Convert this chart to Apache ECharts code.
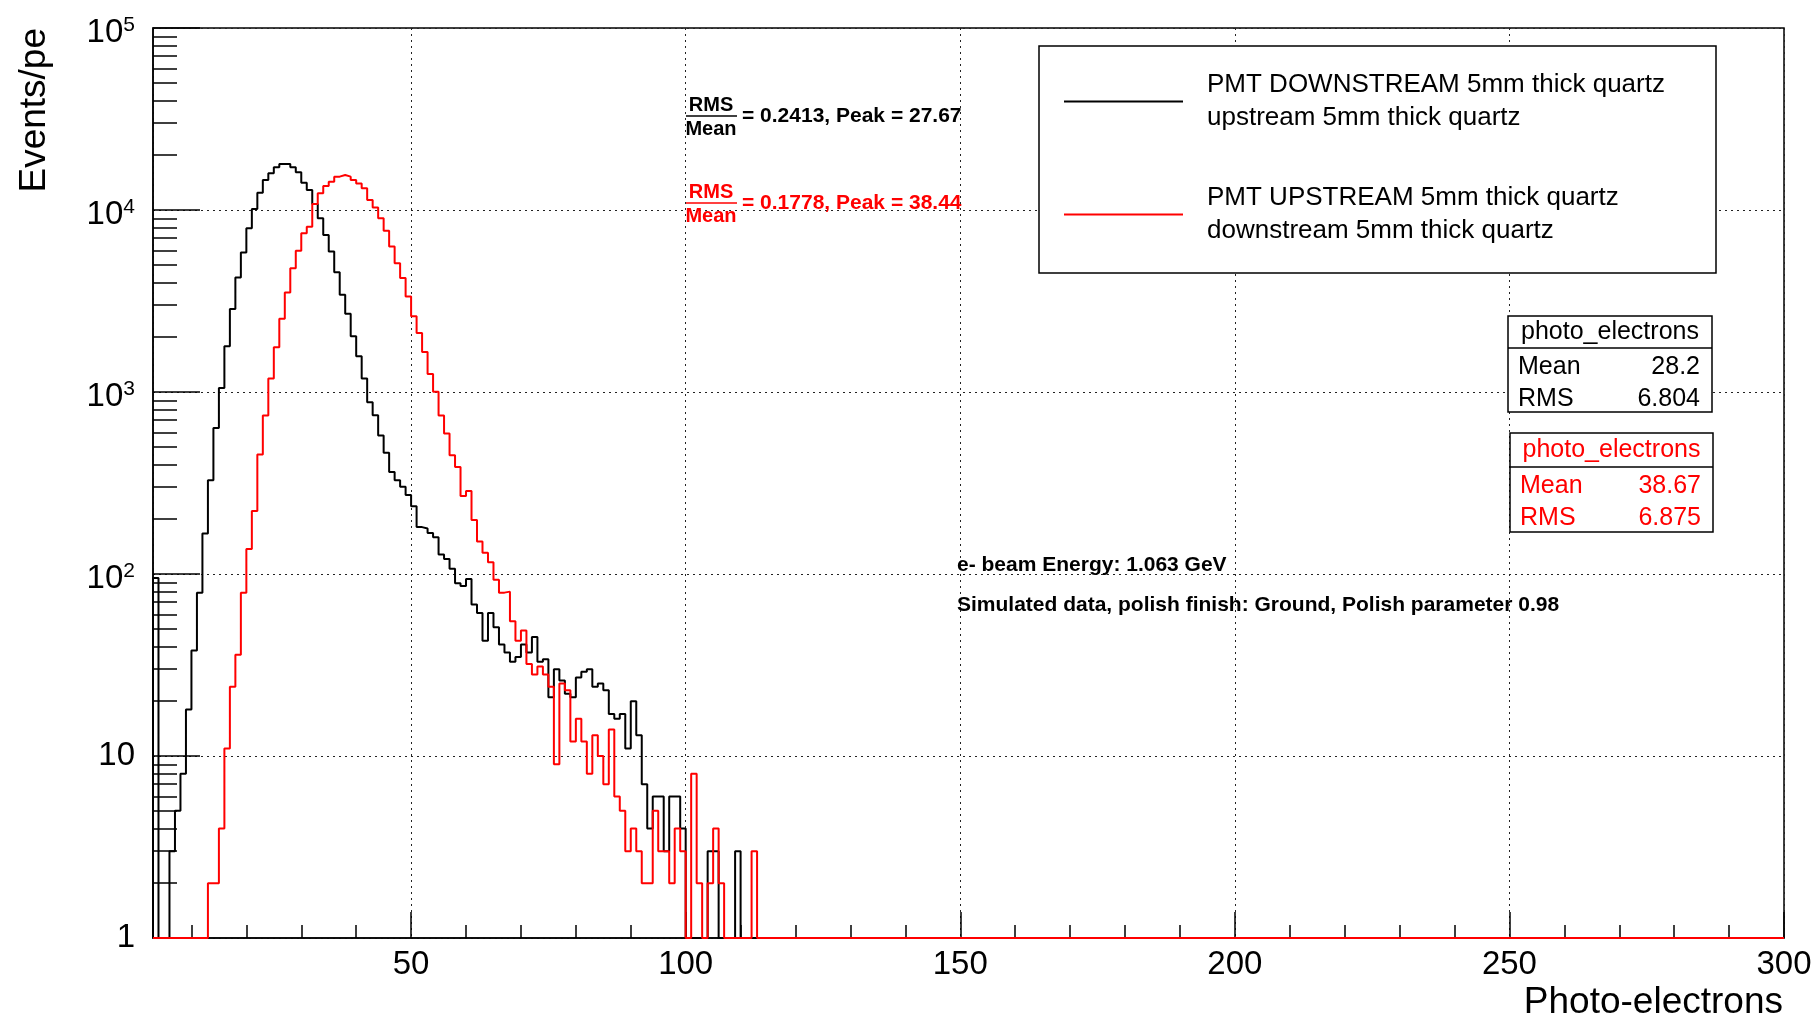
<!DOCTYPE html>
<html>
<head>
<meta charset="utf-8">
<title>Photo-electrons</title>
<script src="https://cdn.jsdelivr.net/npm/echarts@6.0.0/dist/echarts.min.js"></script>
<style>
  html, body { margin: 0; padding: 0; background: #fff; }
  #chart { width: 1818px; height: 1019px; }
</style>
</head>
<body>
<div id="chart"></div>
<script>
// bins are 1 p.e. wide; each counts array starts at the given low edge
const blackStart = 3;
const blackCounts = [
  95, 0, 0, 3, 5, 8, 18, 38, 79, 167,
  327, 635, 1053, 1783, 2855, 4260, 5840, 7940, 10140, 12450,
  14620, 15900, 17150, 17900, 17900, 17150, 16100, 14130, 12890, 10800,
  9010, 7300, 5915, 4555, 3423, 2693, 2023, 1572, 1186, 879,
  746, 577, 464, 363, 327, 302, 272, 236, 181, 178,
  168, 159, 128, 121, 107, 89, 86, 94, 68, 61,
  43, 61, 51, 41, 37, 33, 35, 41, 37, 45,
  33, 34, 21, 30, 26, 22, 21, 27, 29, 30,
  24, 25, 23, 17, 16, 17, 11, 20, 13, 7,
  4, 6, 6, 3, 6, 6, 4, 0, 0, 0,
  0, 3, 3, 0, 0, 0, 3
];
const redStart = 13;
const redCounts = [
  2, 2, 4, 11, 24, 36, 79, 137, 222, 454,
  743, 1186, 1761, 2530, 3525, 4790, 5970, 7450, 8100, 10800,
  12350, 13550, 14310, 15250, 15570, 15250, 14620, 14000, 13150, 11350,
  10310, 9010, 7680, 6300, 5100, 4225, 3350, 2605, 2110, 1660,
  1257, 1002, 743, 592, 449, 387, 268, 286, 198, 151,
  131, 116, 93, 79, 80, 55, 43, 49, 32, 28,
  31, 28, 24, 9, 25, 23, 12, 16, 12, 8,
  13, 10, 7, 14, 6, 5, 3, 4, 3, 2,
  2, 5, 3, 3, 2, 4, 3, 0, 8, 2,
  0, 2, 4, 2, 0, 0, 0, 0, 0, 3
];

const xMin = 3, xMax = 300;
const yMin = 1, yMax = 100000;
const xMajorTicks = [50, 100, 150, 200, 250, 300];
const xMinorTicks = [10, 20, 30, 40, 60, 70, 80, 90, 110, 120, 130, 140, 160, 170, 180, 190,
  210, 220, 230, 240, 260, 270, 280, 290];
const yMinorTicks = [2, 3, 4, 5, 6, 7, 8, 9, 20, 30, 40, 50, 60, 70, 80, 90,
  200, 300, 400, 500, 600, 700, 800, 900, 2000, 3000, 4000, 5000, 6000, 7000, 8000, 9000,
  20000, 30000, 40000, 50000, 60000, 70000, 80000, 90000];

const seriesNames = ['PMT DOWNSTREAM 5mm thick quartz', 'PMT UPSTREAM 5mm thick quartz'];
const seriesSubtitles = ['upstream 5mm thick quartz', 'downstream 5mm thick quartz'];
const statMeans = ['28.2', '38.67'];
const statRms = ['6.804', '6.875'];
const ratioTexts = ['= 0.2413, Peak = 27.67', '= 0.1778, Peak = 38.44'];
const notes = ['e- beam Energy: 1.063 GeV', 'Simulated data, polish finish: Ground, Polish parameter 0.98'];

const FONT = '"Liberation Sans", Arial, Helvetica, sans-serif';
const BLACK = '#000000';
const RED = '#ff0000';

function histPoints(start, counts) {
  // step outline, empty bins sit on the axis floor like ROOT draws them
  const pts = [[xMin, yMin]];
  for (let x = xMin; x < xMax; x++) {
    const i = x - start;
    const c = (i >= 0 && i < counts.length) ? counts[i] : 0;
    pts.push([x, c > 0 ? c : yMin]);
  }
  pts.push([xMax, yMin]);
  return pts;
}

function histSeries(name, start, counts, color, z) {
  return {
    name: name,
    type: 'line',
    step: 'end',
    data: histPoints(start, counts),
    symbol: 'none',
    showSymbol: false,
    silent: true,
    z: z,
    lineStyle: { color: color, width: 2 },
    itemStyle: { color: color }
  };
}

function txt(x, y, text, opts) {
  return {
    type: 'text', x: x, y: y, z: opts.z || 6, rotation: opts.rotation || 0,
    style: {
      text: text, fill: opts.color || BLACK, fontFamily: FONT,
      fontSize: opts.size || 20, fontWeight: opts.bold ? 'bold' : 'normal',
      align: opts.align || 'left', verticalAlign: 'middle'
    }
  };
}

function statsBox(x, y, w, h, sep, color, mean, rms) {
  return [
    { type: 'rect', z: 5, shape: { x: x, y: y, width: w, height: h },
      style: { fill: '#fff', stroke: BLACK, lineWidth: 1.5 } },
    { type: 'line', z: 6, shape: { x1: x, y1: sep, x2: x + w, y2: sep },
      style: { stroke: BLACK, lineWidth: 1.5 } },
    txt(x + w / 2, y + (sep - y) / 2, 'photo_electrons', { size: 25, color: color, align: 'center' }),
    txt(x + 10, sep + 19, 'Mean', { size: 25, color: color }),
    txt(x + w - 12, sep + 19, mean, { size: 25, color: color, align: 'right' }),
    txt(x + 10, sep + 51, 'RMS', { size: 25, color: color }),
    txt(x + w - 12, sep + 51, rms, { size: 25, color: color, align: 'right' })
  ];
}

function ratio(yLine, color, text) {
  return [
    txt(711, yLine - 11, 'RMS', { size: 20, bold: true, color: color, align: 'center' }),
    { type: 'line', z: 6, shape: { x1: 686, y1: yLine, x2: 737, y2: yLine },
      style: { stroke: color, lineWidth: 1.5 } },
    txt(711, yLine + 13, 'Mean', { size: 20, bold: true, color: color, align: 'center' }),
    txt(742, yLine, text, { size: 21, bold: true, color: color })
  ];
}

const chart = echarts.init(document.getElementById('chart'));

const option = {
  animation: false,
  backgroundColor: '#fff',
  grid: {
    left: 153, right: 34, top: 28, bottom: 81,
    show: true, borderColor: BLACK, borderWidth: 1.5, backgroundColor: '#fff',
    outerBoundsMode: 'none'
  },
  legend: {
    orient: 'vertical',
    left: 1064, top: 69,
    padding: 0,
    icon: 'rect',
    itemWidth: 119, itemHeight: 2, itemGap: 48,
    selectedMode: false,
    z: 6,
    data: seriesNames,
    formatter: function (name) {
      return name + '\n' + seriesSubtitles[seriesNames.indexOf(name)];
    },
    textStyle: {
      fontFamily: FONT, fontSize: 26, lineHeight: 32.5, color: BLACK,
      padding: [0, 0, 0, 19]
    }
  },
  xAxis: [
    {
      type: 'value', min: xMin, max: xMax, position: 'bottom',
      axisLine: { show: true, onZero: false, lineStyle: { color: BLACK, width: 1.5 } },
      axisTick: { show: true, inside: true, length: 26, lineStyle: { color: BLACK, width: 1.5 } },
      axisLabel: {
        show: true, margin: 10, fontSize: 33, color: BLACK, fontFamily: FONT,
        formatter: function (v) { return xMajorTicks.indexOf(v) >= 0 ? String(v) : ''; }
      },
      splitLine: { show: true, lineStyle: { color: '#222', width: 1, type: [2, 4] } }
    },
    {
      type: 'value', min: xMin, max: xMax, position: 'bottom',
      axisLine: { show: false },
      axisLabel: { show: false },
      splitLine: { show: false },
      axisTick: { show: true, inside: true, length: 13, customValues: xMinorTicks,
        lineStyle: { color: BLACK, width: 1.5 } }
    }
  ],
  yAxis: [
    {
      type: 'log', logBase: 10, min: yMin, max: yMax, position: 'left',
      axisLine: { show: true, lineStyle: { color: BLACK, width: 1.5 } },
      axisTick: { show: true, inside: true, length: 47, lineStyle: { color: BLACK, width: 1.5 } },
      axisLabel: {
        margin: 18, color: BLACK, fontFamily: FONT, fontSize: 33,
        formatter: function (v) {
          const p = Math.round(Math.log10(v));
          if (p < 2) return '{b|' + Math.round(v) + '}';
          return '{bs|10}{sup|' + p + '}';
        },
        rich: {
          b: { fontSize: 33, fontFamily: FONT, color: BLACK, lineHeight: 44 },
          bs: { fontSize: 33, fontFamily: FONT, color: BLACK, lineHeight: 44, padding: [10, 0, 0, 0] },
          sup: { fontSize: 21, fontFamily: FONT, color: BLACK, lineHeight: 20,
            verticalAlign: 'top', padding: [9, 0, 0, 0] }
        }
      },
      splitLine: { show: true, lineStyle: { color: '#222', width: 1, type: [2, 4] } }
    },
    {
      type: 'log', logBase: 10, min: yMin, max: yMax, position: 'left',
      axisLine: { show: false },
      axisLabel: { show: false },
      splitLine: { show: false },
      axisTick: { show: true, inside: true, length: 24, customValues: yMinorTicks,
        lineStyle: { color: BLACK, width: 1.5 } }
    }
  ],
  series: [
    histSeries(seriesNames[0], blackStart, blackCounts, BLACK, 2),
    histSeries(seriesNames[1], redStart, redCounts, RED, 3)
  ],
  graphic: [
    { type: 'rect', z: 5, shape: { x: 1039, y: 46, width: 677, height: 227 },
      style: { fill: '#fff', stroke: BLACK, lineWidth: 1.5 } },
    ...statsBox(1508, 316, 204, 96, 348, BLACK, statMeans[0], statRms[0]),
    ...statsBox(1510, 433, 203, 99, 467, RED, statMeans[1], statRms[1]),
    ...ratio(116, BLACK, ratioTexts[0]),
    ...ratio(203, RED, ratioTexts[1]),
    txt(957, 565, notes[0], { size: 21, bold: true }),
    txt(957, 605, notes[1], { size: 21, bold: true }),
    txt(1783, 1003, 'Photo-electrons', { size: 37, align: 'right' }),
    txt(35, 28, 'Events/pe', { size: 37, align: 'right', rotation: Math.PI / 2 })
  ]
};

chart.setOption(option);
</script>
</body>
</html>
